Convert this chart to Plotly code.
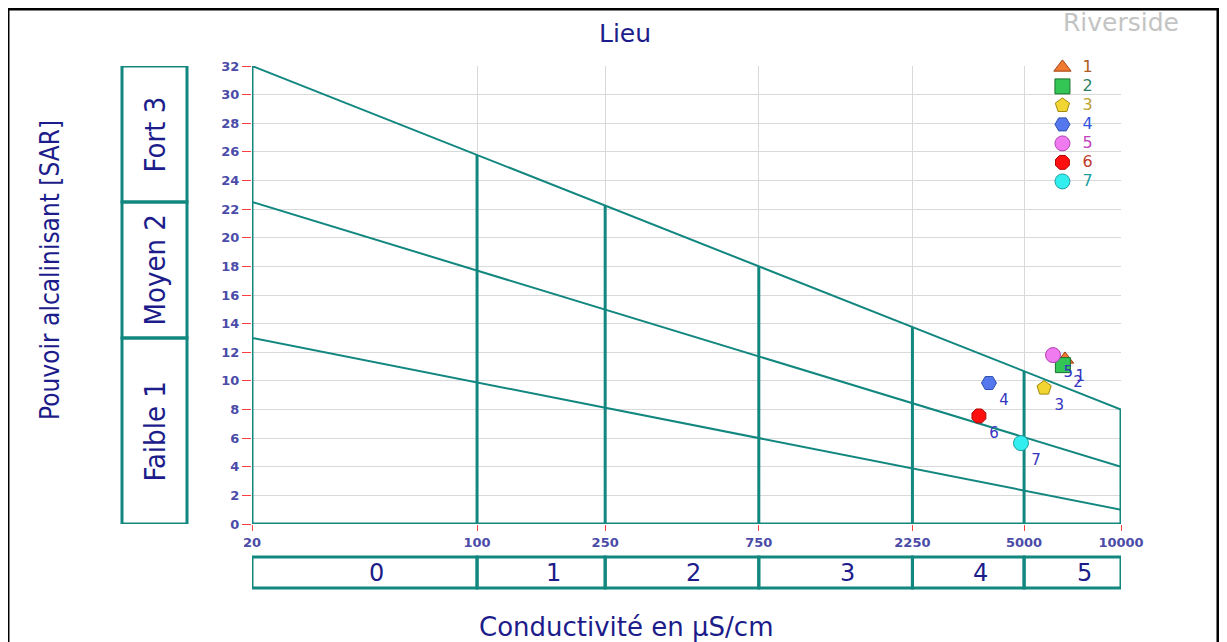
import math
import plotly.graph_objects as go

# ---------------- data ----------------
sample_ids = ["1", "2", "3", "4", "5", "6", "7"]
conductivity = [6700, 6600, 5770, 3890, 6150, 3620, 4890]   # µS/cm
sar_values = [11.5, 11.1, 9.5, 9.85, 11.8, 7.55, 5.65]
marker_symbols = ["triangle-up", "square", "pentagon", "hexagon2", "circle", "octagon", "circle"]
marker_colors = ["#f07a30", "#33c655", "#f2d530", "#5577ee", "#f07af0", "#ff1010", "#33eeee"]
marker_edges = ["#a04010", "#1a7030", "#a08a10", "#3050b0", "#b040b0", "#b00000", "#20a0a0"]
legend_text_colors = ["#b05a20", "#2f7f66", "#c0a030", "#3355dd", "#c044c0", "#c03a2a", "#229f9f"]

# Riverside diagram structure
class_bounds = [20, 100, 250, 750, 2250, 5000, 10000]
salinity_classes = ["0", "1", "2", "3", "4", "5"]
sar_left = [32, 22.5, 13]      # SAR boundary lines at 20 µS/cm
sar_right = [8, 4, 1]          # SAR boundary lines at 10000 µS/cm
sodium_classes = ["Faible 1", "Moyen 2", "Fort 3"]
sodium_bounds = [0, 13, 22.5, 32]
x_ticks = [20, 100, 250, 750, 2250, 5000, 10000]
y_ticks = list(range(0, 33, 2))

TEAL = "#12877f"
NAVY = "#1c1c8a"
TICKCOL = "#4b4ba8"
NARROW = "Liberation Sans Narrow, DejaVu Sans Condensed"

xmin, xmax = class_bounds[0], class_bounds[-1]
lmin, lmax = math.log10(xmin), math.log10(xmax)


def boundary(x, a, b):
    t = (math.log10(x) - lmin) / (lmax - lmin)
    return a + (b - a) * t


fig = go.Figure()

# diagonal SAR boundary lines
for a, b in zip(sar_left, sar_right):
    fig.add_trace(go.Scatter(x=[xmin, xmax], y=[a, b], mode="lines",
                             line=dict(color=TEAL, width=2), showlegend=False, hoverinfo="skip"))

# vertical salinity boundary lines up to the top SAR line
for xb in class_bounds:
    top = boundary(xb, sar_left[0], sar_right[0])
    fig.add_trace(go.Scatter(x=[xb, xb], y=[0, top], mode="lines",
                             line=dict(color=TEAL, width=3), showlegend=False, hoverinfo="skip"))

# bottom axis line
fig.add_trace(go.Scatter(x=[xmin, xmax], y=[0, 0], mode="lines",
                         line=dict(color=TEAL, width=3), showlegend=False, hoverinfo="skip"))

# samples
for i, sid in enumerate(sample_ids):
    fig.add_trace(go.Scatter(
        x=[conductivity[i]], y=[sar_values[i]], mode="markers+text",
        name=f"<span style='color:{legend_text_colors[i]};font-size:16px'>{sid}</span>",
        text=[sid], textposition="bottom right",
        textfont=dict(family="DejaVu Sans", size=15, color="#3535c0"),
        marker=dict(symbol=marker_symbols[i], size=15, color=marker_colors[i],
                    line=dict(color=marker_edges[i], width=1)),
    ))

shapes = []
annotations = []

# bottom salinity class boxes
for j in range(len(salinity_classes)):
    shapes.append(dict(type="rect", xref="x", yref="paper",
                       x0=class_bounds[j], x1=class_bounds[j + 1], y0=-0.14, y1=-0.072,
                       line=dict(color=TEAL, width=3), fillcolor="rgba(0,0,0,0)"))
    mid = (math.log10(class_bounds[j]) + math.log10(class_bounds[j + 1])) / 2
    annotations.append(dict(x=mid, y=-0.106, xref="x", yref="paper", xshift=12,
                            xanchor="center", yanchor="middle",
                            text=salinity_classes[j], showarrow=False,
                            font=dict(family="DejaVu Sans", size=24, color=NAVY)))

# left sodium class boxes
for j in range(len(sodium_classes)):
    shapes.append(dict(type="rect", xref="paper", yref="y",
                       x0=-0.1496, x1=-0.0748, y0=sodium_bounds[j], y1=sodium_bounds[j + 1],
                       line=dict(color=TEAL, width=3), fillcolor="rgba(0,0,0,0)"))
    annotations.append(dict(x=-0.1122, y=(sodium_bounds[j] + sodium_bounds[j + 1]) / 2,
                            xref="paper", yref="y", xanchor="center", yanchor="middle",
                            text=sodium_classes[j], showarrow=False, textangle=-90,
                            font=dict(family=NARROW, size=29, color=NAVY)))

# outer frame
shapes.append(dict(type="rect", xref="paper", yref="paper", x0=-0.2808, x1=1.1116, y0=-0.30, y1=1.1245,
                   line=dict(color="black", width=3), fillcolor="rgba(0,0,0,0)", layer="above"))

annotations += [
    dict(x=0.429, y=1.072, xref="paper", yref="paper", xanchor="center", yanchor="middle",
         text="Lieu", showarrow=False, font=dict(family="DejaVu Sans", size=25, color=NAVY)),
    dict(x=1.0, y=1.096, xref="paper", yref="paper", xanchor="center", yanchor="middle",
         text="Riverside", showarrow=False, font=dict(family="DejaVu Sans", size=25, color="#c4c4c4")),
    dict(x=0.430, y=-0.224, xref="paper", yref="paper", xanchor="center", yanchor="middle",
         text="Conductivité en µS/cm", showarrow=False,
         font=dict(family="DejaVu Sans", size=26, color=NAVY)),
    dict(x=-0.2325, y=0.5546, xref="paper", yref="paper", xanchor="center", yanchor="middle",
         text="Pouvoir alcalinisant [SAR]", showarrow=False, textangle=-90,
         font=dict(family=NARROW, size=26, color=NAVY)),
]

fig.update_layout(
    width=1219, height=634,
    margin=dict(l=244, r=106, t=58, b=118),
    paper_bgcolor="white", plot_bgcolor="white",
    shapes=shapes, annotations=annotations,
    legend=dict(x=0.9096, y=1.0286, xanchor="left", yanchor="top",
                bgcolor="rgba(0,0,0,0)", font=dict(family="DejaVu Sans", size=11),
                itemwidth=30, tracegroupgap=0),
    xaxis=dict(type="log", range=[lmin, lmax], tickvals=x_ticks, ticktext=[str(v) for v in x_ticks],
               showgrid=True, gridcolor="#d9d9d9", gridwidth=1, zeroline=False, showline=False,
               ticks="outside", ticklen=6, tickcolor="#ff4040",
               tickfont=dict(family="DejaVu Sans", size=13, color=TICKCOL, weight="bold")),
    yaxis=dict(range=[0, 32], tickvals=y_ticks, showgrid=True, gridcolor="#d9d9d9", gridwidth=1,
               zeroline=False, showline=False, ticks="outside", ticklen=9, tickcolor="#ff4040",
               tickfont=dict(family="DejaVu Sans", size=13, color=TICKCOL, weight="bold")),
)

fig.write_html("out.html")
